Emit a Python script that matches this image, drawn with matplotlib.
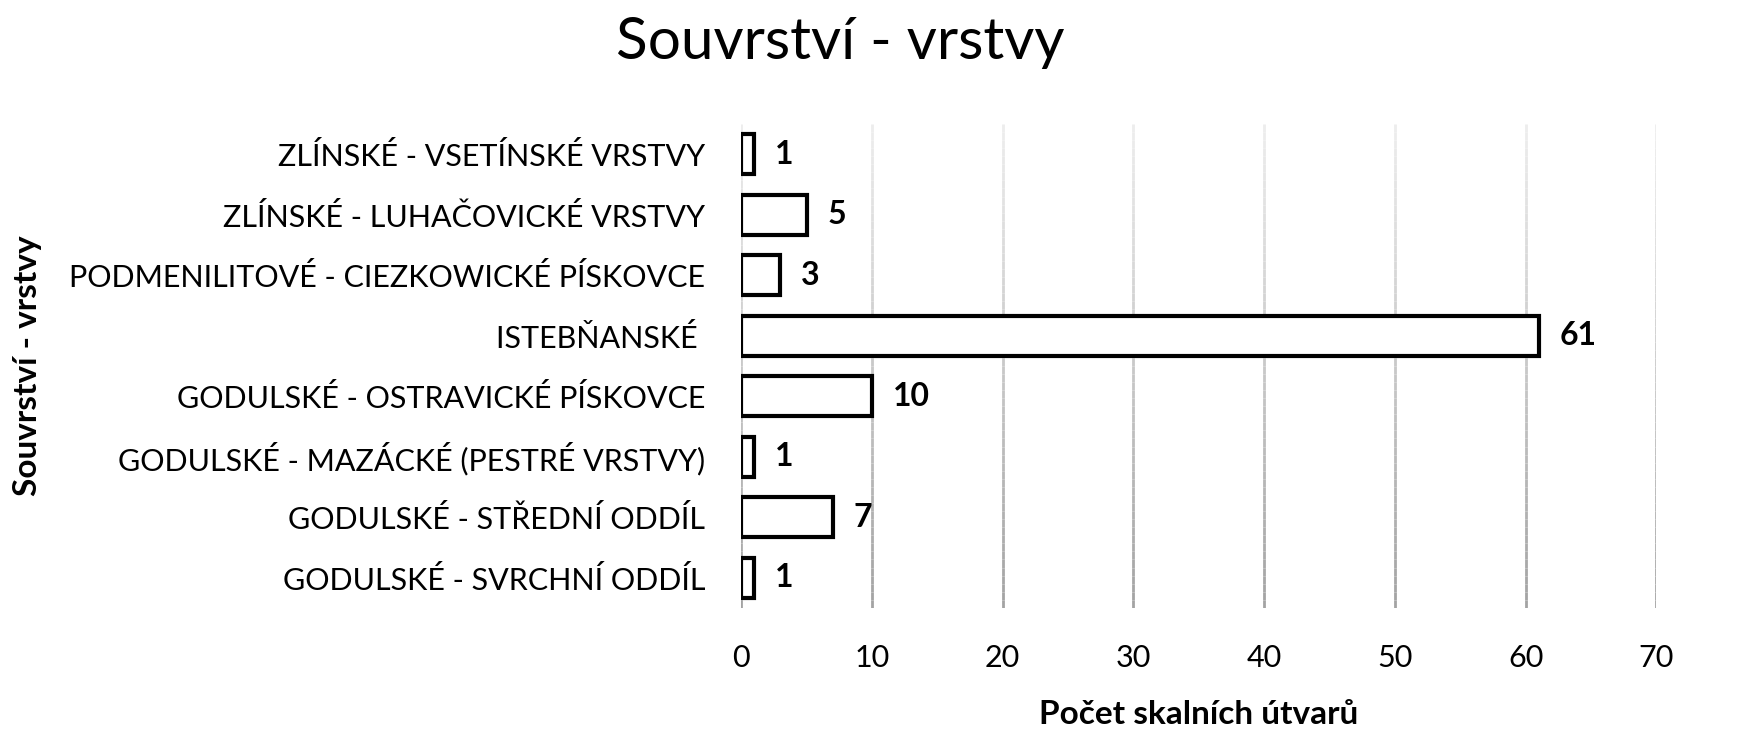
import matplotlib as mpl
mpl.use('Agg')
import matplotlib.pyplot as plt
from matplotlib.collections import LineCollection
import numpy as np

# data (top to bottom as in the chart)
categories = [
    'ZLÍNSKÉ - VSETÍNSKÉ VRSTVY',
    'ZLÍNSKÉ - LUHAČOVICKÉ VRSTVY',
    'PODMENILITOVÉ - CIEZKOWICKÉ PÍSKOVCE',
    'ISTEBŇANSKÉ ',
    'GODULSKÉ - OSTRAVICKÉ PÍSKOVCE',
    'GODULSKÉ - MAZÁCKÉ (PESTRÉ VRSTVY)',
    'GODULSKÉ - STŘEDNÍ ODDÍL',
    'GODULSKÉ - SVRCHNÍ ODDÍL',
]
counts = [1, 5, 3, 61, 10, 1, 7, 1]
xticks = [0, 10, 20, 30, 40, 50, 60, 70]

plt.rcParams['font.family'] = ['Lato', 'DejaVu Sans']

fig = plt.figure(figsize=(17.4, 7.56), dpi=100)
ax = fig.add_axes([0.426, 0.196, 0.526, 0.640])

ypos = list(range(len(categories)))[::-1]
ax.barh(ypos, counts, height=0.66, color='white', edgecolor='black',
        linewidth=3.0, zorder=3)

for y, v in zip(ypos, counts):
    ax.text(v + 1.6, y, str(v), va='center', ha='left', fontsize=23,
            fontweight='bold', zorder=4)

ax.set_xlim(0, 70)
ax.set_ylim(-0.5, len(categories) - 0.5)
ax.set_xticks(xticks)
ax.set_yticks(ypos)
ax.set_yticklabels(categories)
ax.tick_params(axis='both', length=0, labelsize=22)
ax.tick_params(axis='x', pad=26)
ax.tick_params(axis='y', pad=26)

# gridlines with light-to-dark gradient (top to bottom)
n = 60
ys = np.linspace(1, 0, n + 1)
shade = np.linspace(0.93, 0.64, n)
for xt in xticks:
    segs = [[(xt, ys[i]), (xt, ys[i + 1])] for i in range(n)]
    lc = LineCollection(segs, colors=[(s, s, s) for s in shade], linewidths=2.0,
                        transform=ax.get_xaxis_transform(), zorder=1)
    ax.add_collection(lc)
for s in ax.spines.values():
    s.set_visible(False)

ax.set_xlabel('Počet skalních útvarů', fontsize=24, fontweight='bold', labelpad=20)
ax.set_ylabel('Souvrství - vrstvy', fontsize=24, fontweight='bold')
ax.yaxis.set_label_coords(-0.764, 0.5)
fig.text(0.483, 0.944, 'Souvrství - vrstvy', ha='center', va='center', fontsize=42)

fig.savefig('out.png', dpi=100)
